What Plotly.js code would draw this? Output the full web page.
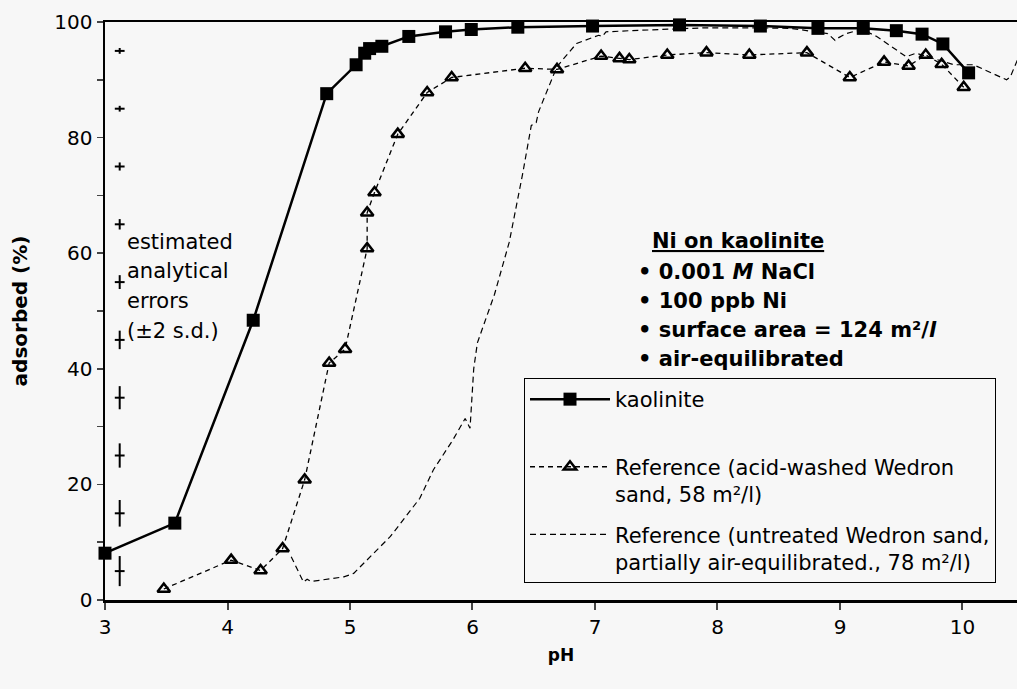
<!DOCTYPE html>
<html><head><meta charset="utf-8">
<script src="https://cdn.plot.ly/plotly-3.0.1.min.js"></script>
<style>html,body{margin:0;padding:0;background:#f7f7f7}</style>
</head><body><div id="chart" style="width:1017px;height:689px"></div>
<script>
// ---- data ----
const kaolinitePH  = [3.00, 3.57, 4.21, 4.81, 5.05, 5.12, 5.16, 5.26, 5.48, 5.78, 5.99, 6.37, 6.98, 7.69, 8.35, 8.82, 9.19, 9.46, 9.67, 9.84, 10.05];
const kaoliniteAds = [8.1, 13.3, 48.4, 87.6, 92.6, 94.6, 95.4, 95.8, 97.5, 98.3, 98.7, 99.1, 99.3, 99.5, 99.3, 98.9, 98.9, 98.5, 97.9, 96.2, 91.2];

const acidPH  = [3.48, 4.03, 4.27, 4.45, 4.63, 4.83, 4.96, 5.14, 5.14, 5.20, 5.39, 5.63, 5.83, 6.43, 6.69, 7.05, 7.20, 7.28, 7.59, 7.91, 8.26, 8.73, 9.08, 9.36, 9.56, 9.70, 9.83, 10.01];
const acidAds = [1.9, 6.9, 5.1, 8.9, 20.8, 41.0, 43.4, 60.8, 67.0, 70.5, 80.6, 87.8, 90.4, 92.0, 91.8, 94.1, 93.7, 93.5, 94.3, 94.7, 94.3, 94.7, 90.4, 93.1, 92.4, 94.3, 92.7, 88.7];

const untreatedPH  = [4.52, 4.62, 4.65, 4.68, 4.75, 4.95, 5.03, 5.19, 5.33, 5.57, 5.68, 5.84, 5.94, 5.98, 5.99, 6.01, 6.04, 6.10, 6.18, 6.30, 6.41, 6.48, 6.52, 6.54, 6.63, 6.69, 6.85, 7.03, 7.06, 7.09, 7.29, 7.59, 7.90, 8.30, 8.60, 8.90, 8.96, 8.99, 9.05, 9.12, 9.19, 9.30, 9.46, 9.54, 9.62, 9.76, 9.93, 10.09, 10.21, 10.36, 10.39, 10.45];
const untreatedAds = [7.5, 3.1, 3.6, 3.2, 3.4, 4.0, 4.6, 8.1, 11.0, 17.6, 22.5, 27.7, 31.4, 29.7, 33.4, 40.0, 44.5, 48.1, 52.9, 61.9, 73.8, 82.1, 82.6, 84.5, 89.3, 92.3, 96.3, 97.7, 97.5, 98.3, 98.5, 98.7, 99.0, 99.0, 98.9, 98.0, 96.8, 97.3, 98.0, 98.4, 98.6, 97.5, 95.2, 94.0, 94.6, 93.7, 92.6, 92.6, 91.4, 90.0, 90.5, 93.5];

const errorPH  = [3.12, 3.12, 3.12, 3.12, 3.12, 3.12, 3.12, 3.12, 3.12, 3.12];
const errorAds = [95, 85, 75, 65, 55, 45, 35, 25, 15, 5];
const errorSD2 = [0.5, 0.5, 0.7, 0.9, 1.2, 1.6, 2.0, 2.1, 2.3, 2.6];

const seriesNames = ['kaolinite<br>\u00a0', 'Reference (acid-washed Wedron<br>sand, 58 m²/l)', 'Reference (untreated Wedron sand,<br>partially air-equilibrated., 78 m²/l)'];
const xTicks = [3, 4, 5, 6, 7, 8, 9, 10];
const yTicks = [0, 20, 40, 60, 80, 100];
const errorNote = ['estimated', 'analytical', 'errors', '(±2 s.d.)'];
const conditionNote = ['<u>Ni on kaolinite</u>', '• 0.001 <i>M</i> NaCl', '• 100 ppb Ni', '• surface area = 124 m²/<i>l</i>', '• air-equilibrated'];

const FONT = '"DejaVu Sans", "Liberation Sans", Arial, sans-serif';

const traces = [
  {x: kaolinitePH, y: kaoliniteAds, name: seriesNames[0], type: 'scatter', mode: 'lines+markers',
   line: {color: '#000', width: 2.5}, marker: {symbol: 'square', size: 13, color: '#000'},
   cliponaxis: false, legendgroup: 'a'},
  {x: acidPH, y: acidAds, name: seriesNames[1], type: 'scatter', mode: 'lines+markers',
   line: {color: '#000', width: 1.3, dash: '5px,4px'},
   marker: {symbol: 'triangle-up-open', size: 11, color: '#000', line: {width: 2.5, color: '#000'}},
   cliponaxis: false, legendgroup: 'b'},
  {x: untreatedPH, y: untreatedAds, name: seriesNames[2], type: 'scatter', mode: 'lines',
   line: {color: '#000', width: 1.2, dash: '6px,4px'}, cliponaxis: false, legendgroup: 'c'},
  {x: errorPH, y: errorAds, type: 'scatter', mode: 'markers', showlegend: false,
   marker: {symbol: 'line-ew', size: 7, color: '#000', line: {width: 2, color: '#000'}},
   error_y: {type: 'data', array: errorSD2, visible: true, color: '#000', thickness: 2, width: 0},
   cliponaxis: false, legendgroup: 'd'}
];

const annotations = [];
const noteY = [242, 271, 301, 331];
errorNote.forEach((t, i) => annotations.push({
  text: t, xref: 'paper', yref: 'paper', x: (125 - 105) / 912, y: (600 - noteY[i]) / 578,
  xanchor: 'left', yanchor: 'middle', showarrow: false, font: {family: FONT, size: 21, color: '#000'}
}));
const condY = [241, 272, 301, 330, 359];
conditionNote.forEach((t, i) => annotations.push({
  text: '<b>' + t + '</b>', xref: 'paper', yref: 'paper',
  x: ((i === 0 ? 650 : 636) - 105) / 912, y: (600 - condY[i]) / 578,
  xanchor: 'left', yanchor: 'middle', showarrow: false, font: {family: FONT, size: 21, color: '#000'}
}));

const layout = {
  width: 1017, height: 689,
  margin: {l: 105, r: 0, t: 22, b: 89},
  paper_bgcolor: '#f7f7f7', plot_bgcolor: '#f7f7f7',
  font: {family: FONT, size: 20, color: '#000'},
  showlegend: true,
  legend: {x: (524 - 105) / 912, y: (600 - 378) / 578, xanchor: 'left', yanchor: 'top',
           bgcolor: 'rgba(0,0,0,0)', bordercolor: '#000', borderwidth: 1,
           font: {family: FONT, size: 21, color: '#000'}, itemwidth: 80, valign: 'top',
           tracegroupgap: 10, traceorder: 'grouped'},
  xaxis: {range: [3, 10.445], tickvals: xTicks, ticks: 'outside', ticklen: 7, tickwidth: 2,
          showline: true, linewidth: 2.5, linecolor: '#000', mirror: true, showgrid: false, zeroline: false,
          tickfont: {family: FONT, size: 20},
          title: {text: '<b>pH</b>', font: {family: FONT, size: 17}, standoff: 12}},
  yaxis: {range: [0, 100], tickvals: yTicks, ticks: 'outside', ticklen: 6, tickwidth: 1.5,
          minor: {dtick: 10, ticks: 'outside', ticklen: 6, tickwidth: 1.5, showgrid: false},
          showline: true, linewidth: 2.5, linecolor: '#000', showgrid: false, zeroline: false,
          tickfont: {family: FONT, size: 20},
          title: {text: '<b>adsorbed (%)</b>', font: {family: FONT, size: 20}, standoff: 22}},
  annotations: annotations
};

Plotly.newPlot('chart', traces, layout, {displayModeBar: false, staticPlot: true});
</script></body></html>
